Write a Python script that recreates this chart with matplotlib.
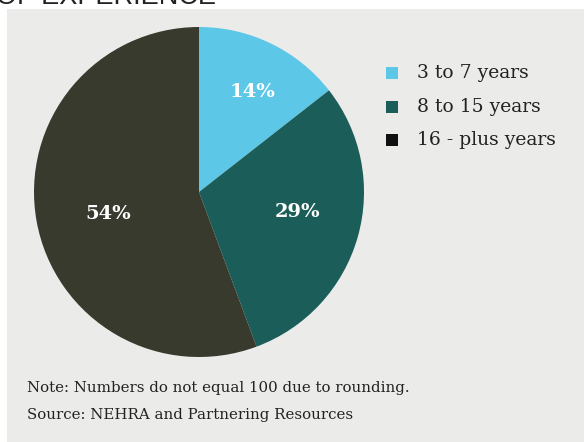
import matplotlib
matplotlib.use("Agg")
import matplotlib.pyplot as plt
from matplotlib.patches import Rectangle

categories = ["3 to 7 years", "8 to 15 years", "16 - plus years"]
values = [14, 29, 54]
pct_labels = ["14%", "29%", "54%"]
colors = ["#5dc7e7", "#1b5d58", "#383a2e"]
legend_colors = ["#5dc7e7", "#1b5d58", "#111111"]
note_lines = ["Note: Numbers do not equal 100 due to rounding.",
              "Source: NEHRA and Partnering Resources"]
title = "OF EXPERIENCE"

W, H = 584, 442
fig = plt.figure(figsize=(W / 100, H / 100), dpi=100)
fig.patch.set_facecolor("white")

# gray panel as a background axes
bg = fig.add_axes([7 / W, 0, 1 - 7 / W, (H - 9) / H], zorder=0)
bg.set_facecolor("#ebebea")
bg.set_xticks([])
bg.set_yticks([])
for s in bg.spines.values():
    s.set_visible(False)

# cut-off title (the reference shows only its lower edge)
fig.text(-4 / W, 1 - 4.5 / H, title, fontsize=19.5, family="Liberation Sans",
         color="#222222", ha="left", va="baseline")

cx, cy, r = 199, 192, 165
ax = fig.add_axes([(cx - r) / W, (H - cy - r) / H, 2 * r / W, 2 * r / H], zorder=2)
ax.set_facecolor("none")
wedges, texts = ax.pie(values, colors=colors, startangle=90, counterclock=False,
                       radius=1.0, wedgeprops=dict(linewidth=0))
ax.set_xlim(-1, 1)
ax.set_ylim(-1, 1)
ax.set_aspect("equal")
ax.axis("off")

label_pos = [(252, 92), (297, 212), (108, 214)]
for (px, py), lab in zip(label_pos, pct_labels):
    fig.text(px / W, 1 - py / H, lab, fontsize=14, fontweight="bold",
             family="DejaVu Serif", color="white", ha="center", va="center",
             zorder=5)

# legend
for i, (cat, col) in enumerate(zip(categories, legend_colors)):
    y = 73 + i * 33.5
    fig.patches.append(Rectangle((386 / W, 1 - (y + 6) / H), 12 / W, 12 / H,
                                 transform=fig.transFigure, facecolor=col,
                                 edgecolor="none", zorder=5))
    fig.text(417 / W, 1 - y / H, cat, fontsize=13.5, family="DejaVu Serif",
             color="#222222", ha="left", va="center", zorder=5)

for i, line in enumerate(note_lines):
    fig.text(27 / W, 1 - (388 + i * 27) / H, line, fontsize=10.8,
             family="DejaVu Serif", color="#222222", ha="left", va="center",
             zorder=5)

fig.savefig("out.png", dpi=100, facecolor=fig.get_facecolor())
